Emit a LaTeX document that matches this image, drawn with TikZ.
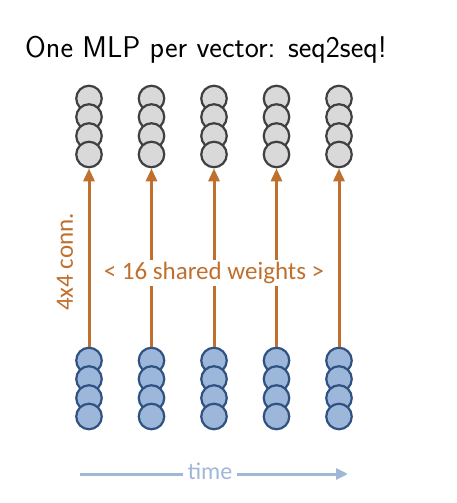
\documentclass[tikz,border=0pt]{standalone}
\usepackage{fontspec}
\newfontfamily\calibri{Carlito}
\usetikzlibrary{arrows.meta}

\definecolor{mlporange}{RGB}{192,112,46}
\definecolor{hidgray}{RGB}{217,217,217}
\definecolor{hidedge}{RGB}{64,64,64}
\definecolor{inblue}{RGB}{157,183,218}
\definecolor{inedge}{RGB}{47,82,130}
\definecolor{timeblue}{RGB}{160,183,216}

\tikzset{
  outunit/.style={circle, draw=hidedge, fill=hidgray, line width=2.2pt, minimum size=25.5pt, inner sep=0pt},
  inunit/.style={circle, draw=inedge, fill=inblue, line width=2.2pt, minimum size=25.5pt, inner sep=0pt},
  conn/.style={draw=mlporange, line width=3pt},
  connarrow/.style={conn, -{Triangle[width=11pt,length=13pt]}},
  orangetext/.style={text=mlporange, font=\calibri\fontsize{25}{30}\selectfont, inner sep=2pt}
}

\begin{document}
\begin{tikzpicture}[x=1pt,y=-1pt]
\useasboundingbox (0,0) rectangle (456,503);
% Title
\node[anchor=base west, inner sep=0pt, font=\sffamily\fontsize{30}{36}\selectfont] (title) at (25,57) {One MLP per vector: seq2seq!};
% Draw units: output vectors above, input vectors below
\foreach \col/\x in {1/89, 2/151.5, 3/214, 4/276.5, 5/339} {
  \node[outunit] (out-\col-1) at (\x,98.5) {};
  \node[outunit] (out-\col-2) at (\x,117) {};
  \node[outunit] (out-\col-3) at (\x,136) {};
  \node[outunit] (out-\col-4) at (\x,154.5) {};
  \node[inunit] (in-\col-1) at (\x,360.5) {};
  \node[inunit] (in-\col-2) at (\x,379) {};
  \node[inunit] (in-\col-3) at (\x,398) {};
  \node[inunit] (in-\col-4) at (\x,416.5) {};
}
% Labels
\node[orangetext] (shared) at (214,273) {< 16 shared weights >};
\node[orangetext, rotate=90] (conn) at (65,262) {4x4 conn.};
% Draw connections
\draw[connarrow] (in-1-1) -- (out-1-4);
\draw[connarrow] (in-5-1) -- (out-5-4);
\draw[conn] (in-2-1) -- (in-2-1 |- shared.south);
\draw[connarrow] (in-2-1 |- shared.north) -- (out-2-4);
\draw[conn] (in-3-1) -- (in-3-1 |- shared.south);
\draw[connarrow] (in-3-1 |- shared.north) -- (out-3-4);
\draw[conn] (in-4-1) -- (in-4-1 |- shared.south);
\draw[connarrow] (in-4-1 |- shared.north) -- (out-4-4);
% Time axis
\node[text=timeblue, font=\calibri\fontsize{24}{28}\selectfont, inner sep=5pt] (time) at (210,471) {time};
\coordinate (timestart) at (80,474);
\coordinate (timeend) at (348,474);
\draw[draw=timeblue, line width=3pt] (timestart) -- (timestart -| time.west);
\draw[draw=timeblue, line width=3pt, -{Triangle[width=11pt,length=12pt]}] (timeend -| time.east) -- (timeend);
\end{tikzpicture}
\end{document}
